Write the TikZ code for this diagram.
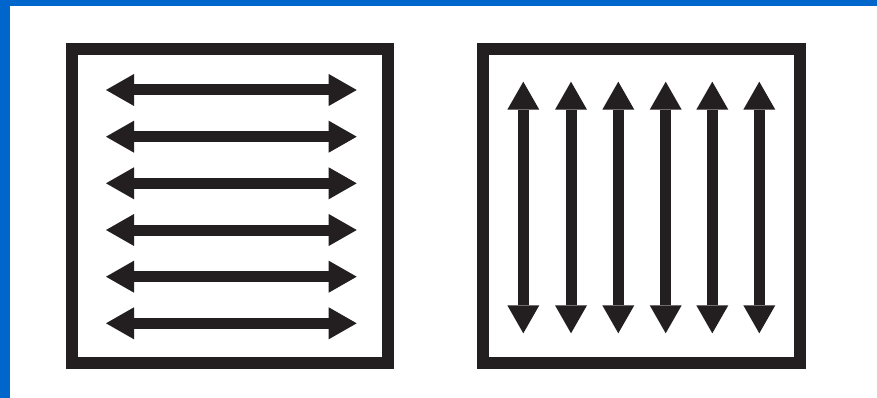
\documentclass[tikz,border=0pt]{standalone}
\usetikzlibrary{arrows.meta}
\definecolor{ink}{HTML}{231F20}
\definecolor{frameblue}{HTML}{0066CC}
\begin{document}
\begin{tikzpicture}[x=1pt,y=-1pt,
  boxline/.style={draw=ink,line width=12pt,inner sep=0pt,outer sep=0pt},
  headtip/.style={Triangle[length=28pt,width=32pt,line width=0pt]},
  dblarrow/.style={draw=ink,fill=ink,line width=11pt,{Triangle[length=28pt,width=32pt,line width=0pt]}-{Triangle[length=28pt,width=32pt,line width=0pt]}}]
\useasboundingbox (0,0) rectangle (877,398);
\fill[white] (0,0) rectangle (877,398);
\fill[frameblue] (0,0) rectangle (877,6);
\fill[frameblue] (0,0) rectangle (10,398);
% boxes
\node[boxline,minimum width=316.3pt,minimum height=313.7pt] (leftbox) at (229.85,206.15) {};
\node[boxline,minimum width=317.5pt,minimum height=313.7pt] (rightbox) at (641.25,206.15) {};
% horizontal double arrows
\foreach \i/\y in {1/90,2/136.7,3/183.3,4/230,5/276.7,6/323.3}{
  \coordinate (hl\i) at (106,\y);
  \coordinate (hr\i) at (356.7,\y);
  \draw[dblarrow] (hl\i) -- (hr\i);
}
% vertical double arrows
\foreach \i/\x in {1/523.3,2/571,3/618.3,4/665.7,5/712.3,6/759.3}{
  \coordinate (vt\i) at (\x,81.7);
  \coordinate (vb\i) at (\x,333.3);
  \draw[dblarrow] (vt\i) -- (vb\i);
}
\end{tikzpicture}
\end{document}
